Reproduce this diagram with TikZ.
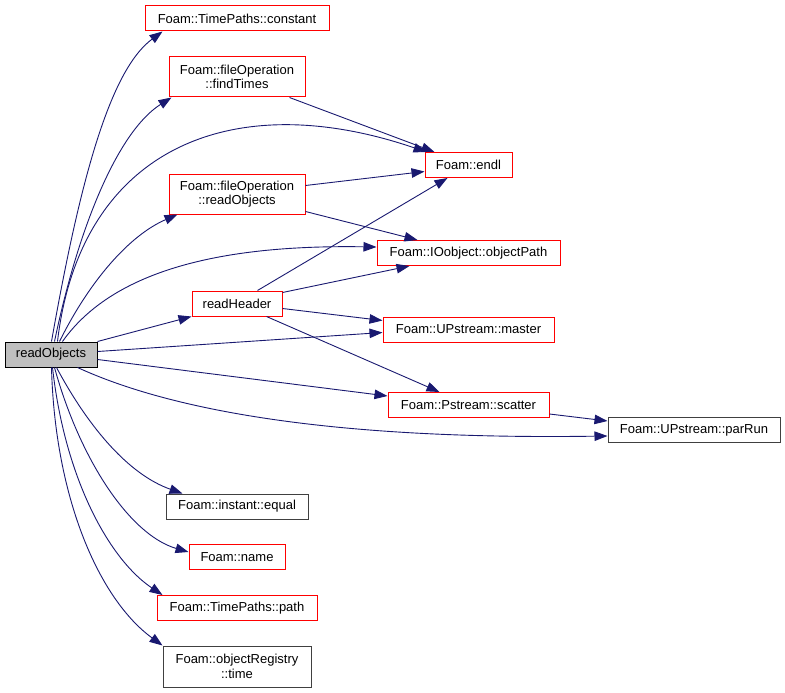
\documentclass[tikz,border=0pt]{standalone}
\usepackage{fontspec}
\setmainfont{Liberation Sans}
\usetikzlibrary{arrows.meta}
\definecolor{edgec}{HTML}{191970}
\definecolor{redb}{HTML}{FF0000}
\definecolor{blackb}{HTML}{404040}
\definecolor{mainfill}{HTML}{BFBFBF}
\begin{document}
\begin{tikzpicture}[x=1pt,y=-1pt,
  box/.style={draw=redb,line width=1pt,inner sep=0pt,align=center,font=\fontsize{13}{14.5}\selectfont,minimum height=25pt},
  blk/.style={box,draw=blackb},
  mainbox/.style={box,draw=black,fill=mainfill},
  edge/.style={draw=edgec,line width=0.9pt,-{Triangle[length=13pt,width=9.5pt]}}]
\useasboundingbox (0,0) rectangle (785,693);
\node[mainbox,minimum width=92pt] (main) at (51,354.5) {readObjects};
\node[box,minimum width=184pt] (constant) at (237,18.5) {Foam::TimePaths::constant};
\node[box,minimum width=136pt,minimum height=40pt] (findTimes) at (237,77) {Foam::fileOperation\\::findTimes};
\node[box,minimum width=136pt,minimum height=40pt] (fopRead) at (237,194) {Foam::fileOperation\\::readObjects};
\node[box,minimum width=90pt] (readHeader) at (237,303.5) {readHeader};
\node[box,minimum width=87pt] (endl) at (468.5,165) {Foam::endl};
\node[box,minimum width=183pt] (objectPath) at (468.5,253) {Foam::IOobject::objectPath};
\node[box,minimum width=171pt] (master) at (468.5,329.5) {Foam::UPstream::master};
\node[box,minimum width=161pt] (scatter) at (468.5,405) {Foam::Pstream::scatter};
\node[blk,minimum width=172pt] (parRun) at (694,430) {Foam::UPstream::parRun};
\node[blk,minimum width=142pt] (equal) at (237,506.5) {Foam::instant::equal};
\node[box,minimum width=96pt] (name) at (237,557) {Foam::name};
\node[box,minimum width=160pt] (path) at (237,608) {Foam::TimePaths::path};
\node[blk,minimum width=148pt,minimum height=41pt] (time) at (237,666.5) {Foam::objectRegistry\\::time};
% edges from main
\draw[edge] ([xshift=47pt]main.north west) .. controls (80,180) and (110,70) .. ([xshift=18pt]constant.south west);
\draw[edge] ([xshift=50pt]main.north west) .. controls (80,220) and (120,130) .. ([xshift=3pt]findTimes.south west);
\draw[edge] ([xshift=53pt]main.north west) .. controls (80,150) and (230,85) .. ([xshift=2pt]endl.north west);
\draw[edge] ([xshift=55pt]main.north west) .. controls (90,280) and (130,235) .. ([xshift=9pt]fopRead.south west);
\draw[edge] ([xshift=58pt]main.north west) .. controls (120,260) and (250,245) .. ([yshift=-7pt]objectPath.north west);
\draw[edge] (main.north east) -- (readHeader.south west);
\draw[edge] ([yshift=-10pt]main.north east) -- ([yshift=-16pt]master.north west);
\draw[edge] ([yshift=-18pt]main.north east) -- ([yshift=-4pt]scatter.north west);
\draw[edge] ([xshift=73pt]main.south west) .. controls (170,410) and (330,440) .. ([yshift=-19pt]parRun.north west);
\draw[edge] ([xshift=52pt]main.south west) .. controls (90,430) and (130,475) .. ([xshift=17pt]equal.north west);
\draw[edge] ([xshift=50pt]main.south west) .. controls (80,460) and (130,535) .. ([yshift=-8pt]name.north west);
\draw[edge] ([xshift=48pt]main.south west) .. controls (65,480) and (110,560) .. ([xshift=6pt]path.north west);
\draw[edge] ([xshift=47pt]main.south west) .. controls (55,500) and (100,600) .. (time.north west);
% other edges
\draw[edge] ([xshift=121pt]findTimes.south west) -- ([xshift=10pt]endl.north west);
\draw[edge] ([yshift=-12pt]fopRead.north east) -- ([yshift=-19.5pt]endl.north west);
\draw[edge] ([yshift=-38pt]fopRead.north east) -- ([xshift=41pt]objectPath.north west);
\draw[edge] ([xshift=66pt]readHeader.north west) -- ([xshift=23pt]endl.south west);
\draw[edge] ([yshift=-2pt]readHeader.north east) -- ([xshift=33pt]objectPath.south west);
\draw[edge] ([yshift=-18pt]readHeader.north east) -- ([yshift=-4pt]master.north west);
\draw[edge] ([xshift=75pt]readHeader.south west) -- ([xshift=52pt]scatter.north west);
\draw[edge] ([yshift=-22pt]scatter.north east) -- ([yshift=-4pt]parRun.north west);
\end{tikzpicture}
\end{document}
